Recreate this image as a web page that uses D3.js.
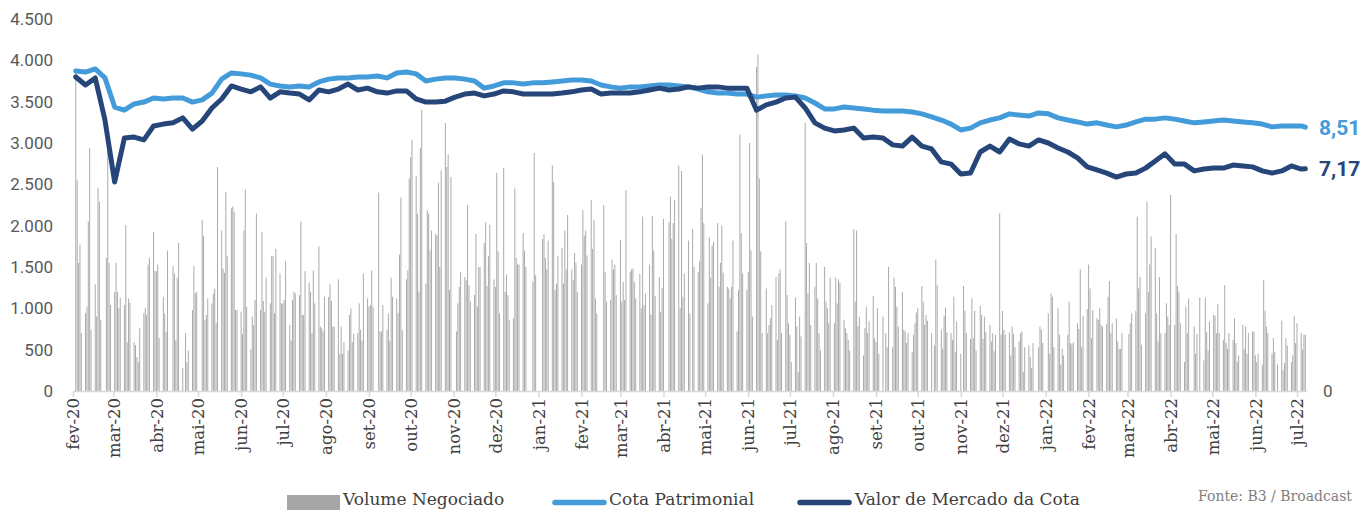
<!DOCTYPE html>
<html>
<head>
<meta charset="utf-8">
<script src="https://cdn.jsdelivr.net/npm/d3@7"></script>
<style>
  html, body { margin: 0; padding: 0; background: #fff; }
  svg { display: block; }
</style>
</head>
<body>
<svg id="chart" width="1364" height="510"></svg>
<script>
// month categories of the x axis
var monthLabels = ["fev-20", "mar-20", "abr-20", "mai-20", "jun-20", "jul-20", "ago-20", "set-20", "out-20", "nov-20", "dez-20",
  "jan-21", "fev-21", "mar-21", "abr-21", "mai-21", "jun-21", "jul-21", "ago-21", "set-21", "out-21", "nov-21", "dez-21",
  "jan-22", "fev-22", "mar-22", "abr-22", "mai-22", "jun-22", "jul-22"];

// daily traded volume, one value per weekday of each month (0 = no trading)
var volFev20 = [3900, 2550, 1550, 1770, 700, 940, 1020, 2050, 2940, 740, 1290, 900, 2460, 2290, 860, 0, 1610, 3170, 1550, 1040];
var volMar20 = [1200, 1550, 1200, 1000, 1130, 1040, 2010, 590, 1120, 1070, 590, 555, 410, 350, 760, 940, 1000, 920, 1530, 1610, 1920, 1450];
var volAbr20 = [1450, 1530, 640, 1140, 940, 710, 1700, 0, 1510, 1420, 610, 1370, 1790, 280, 0, 700, 350, 490, 980, 1510, 1180, 1200];
var volMai20 = [0, 2070, 1880, 860, 920, 1120, 1060, 1180, 1240, 820, 2710, 1940, 1480, 1430, 2410, 1630, 2210, 2230, 2170, 980, 980];
var volJun20 = [960, 690, 1940, 2440, 1020, 510, 900, 800, 1100, 2150, 980, 1920, 1090, 960, 1370, 1060, 1630, 1630, 940, 1720, 1420, 1060];
var volJul20 = [1060, 1100, 1570, 800, 610, 1100, 1200, 1180, 1160, 2050, 920, 920, 1450, 1310, 1200, 700, 1460, 1060, 1750, 780, 760, 720, 1140];
var volAgo20 = [1140, 1290, 1090, 780, 780, 1350, 450, 780, 450, 590, 490, 920, 1000, 590, 690, 700, 1060, 740, 610, 1420, 1120];
var volSet20 = [1020, 1040, 1460, 1020, 0, 2400, 720, 720, 1040, 740, 940, 610, 1370, 1140, 1120, 940, 1650, 2340, 740, 1350, 1460, 2570];
var volOut20 = [2830, 3040, 2600, 2140, 1200, 2940, 3400, 1300, 2190, 2150, 1700, 1940, 1900, 1880, 2520, 1500, 2670, 3240, 2710, 2860, 1220, 2590];
var volNov20 = [0, 720, 1060, 1260, 1440, 1380, 1340, 2250, 1280, 1080, 1160, 1900, 1020, 1500, 1500, 1790, 2040, 1270, 1630, 2010, 1350];
var volDez20 = [1260, 2640, 1690, 940, 2700, 1200, 1410, 1160, 860, 880, 2450, 1610, 1530, 1530, 1910, 1700, 1500, 0, 0, 1320, 2880, 1400, 0];
var volJan21 = [0, 1840, 1900, 1610, 1470, 1820, 2730, 2530, 1220, 1300, 1630, 1730, 1300, 1940, 1470, 2130, 1470, 1340, 1670, 1550, 1200];
var volFev21 = [1530, 2190, 1880, 1940, 1640, 2310, 1720, 2070, 1120, 940, 0, 0, 2250, 1440, 1080, 1100, 1590, 1470, 1530, 1160];
var volMar21 = [1830, 1080, 1320, 1100, 2430, 1440, 1470, 1480, 1320, 1120, 1420, 1000, 2110, 1040, 1180, 1530, 920, 2120, 1700, 1150, 1380, 960, 1250];
var volAbr21 = [2080, 0, 2040, 2350, 1840, 2030, 2310, 2730, 1000, 2660, 1140, 1420, 1820, 940, 0, 1960, 1500, 1440, 1570, 2210, 2860, 2030];
var volMai21 = [1060, 1860, 1370, 1760, 1800, 2030, 1260, 1550, 2000, 1430, 1260, 1240, 1120, 1260, 1820, 720, 1220, 3100, 1910, 1420, 1220];
var volJun21 = [1440, 3000, 1700, 900, 3920, 4070, 2570, 1690, 700, 1240, 700, 800, 880, 1040, 1380, 620, 1420, 1470, 700, 2050, 1160, 820];
var volJul21 = [680, 350, 1130, 780, 230, 900, 660, 3240, 1790, 1180, 1550, 800, 1260, 1550, 1120, 700, 490, 1500, 1080, 1000, 820, 1370];
var volAgo21 = [820, 1370, 1060, 1350, 1310, 860, 760, 700, 620, 490, 1960, 1080, 1940, 780, 900, 430, 760, 1020, 700, 850, 1150, 640];
var volSet21 = [590, 1000, 450, 900, 0, 700, 530, 1500, 530, 1370, 1260, 1020, 780, 1200, 740, 720, 580, 700, 470, 680, 820, 950];
var volOut21 = [1000, 1270, 1080, 800, 920, 850, 700, 0, 550, 1590, 1280, 740, 510, 910, 1010, 710, 700, 620, 1140, 470, 840];
var volNov21 = [450, 0, 1270, 970, 700, 630, 1120, 640, 970, 490, 1030, 920, 630, 900, 710, 800, 600, 700, 480, 680, 2150, 680];
var volDez21 = [970, 740, 680, 710, 430, 780, 690, 530, 600, 700, 720, 230, 530, 550, 410, 280, 580, 0, 530, 780, 740, 580, 0];
var volJan22 = [940, 450, 1180, 1140, 530, 1000, 680, 320, 510, 430, 680, 1080, 580, 560, 590, 820, 750, 1470, 530, 910, 990];
var volFev22 = [1530, 1240, 640, 980, 880, 860, 1000, 800, 780, 810, 1140, 1330, 700, 820, 880, 600, 510, 510, 700, 0];
var volMar22 = [0, 690, 820, 940, 970, 2110, 1240, 1380, 560, 940, 2290, 1200, 1530, 1870, 1730, 940, 600, 1380, 700, 700, 1060, 900, 800];
var volAbr22 = [2370, 800, 1900, 1270, 1200, 820, 350, 1020, 700, 1120, 0, 780, 450, 690, 0, 1130, 370, 1130, 710, 490, 840];
var volMai22 = [920, 910, 700, 1050, 700, 620, 1280, 580, 510, 700, 620, 880, 580, 350, 430, 800, 510, 780, 450, 700, 720, 720];
var volJun22 = [430, 350, 450, 320, 1340, 970, 780, 700, 450, 640, 470, 0, 320, 850, 250, 340, 640, 550, 350, 430, 910, 580];
var volJul22 = [820, 700, 500, 680, 680];

var volumeByMonth = [volFev20, volMar20, volAbr20, volMai20, volJun20, volJul20, volAgo20, volSet20, volOut20, volNov20, volDez20,
  volJan21, volFev21, volMar21, volAbr21, volMai21, volJun21, volJul21, volAgo21, volSet21, volOut21, volNov21, volDez21,
  volJan22, volFev22, volMar22, volAbr22, volMai22, volJun22, volJul22];

// weekly readings (each Monday from 03/02/2020, plus the last day 07/07/2022), R$ per share
var cotaPatrimonial = [10.32, 10.29, 10.39, 10.10, 9.16, 9.06, 9.26, 9.32, 9.45, 9.42,
  9.45, 9.45, 9.32, 9.39, 9.61, 10.06, 10.26, 10.23, 10.19, 10.10,
  9.90, 9.84, 9.81, 9.84, 9.81, 9.97, 10.06, 10.10, 10.10, 10.13,
  10.13, 10.16, 10.10, 10.26, 10.29, 10.23, 10.00, 10.06, 10.10, 10.10,
  10.06, 10.00, 9.77, 9.84, 9.94, 9.94, 9.90, 9.94, 9.94, 9.97,
  10.00, 10.03, 10.03, 10.00, 9.87, 9.81, 9.77, 9.81, 9.81, 9.84,
  9.87, 9.87, 9.84, 9.81, 9.74, 9.65, 9.61, 9.61, 9.58, 9.58,
  9.48, 9.52, 9.55, 9.55, 9.52, 9.45, 9.29, 9.10, 9.10, 9.16,
  9.13, 9.10, 9.06, 9.03, 9.03, 9.03, 9.00, 8.94, 8.84, 8.74,
  8.61, 8.42, 8.48, 8.65, 8.74, 8.81, 8.94, 8.90, 8.87, 8.97,
  8.94, 8.81, 8.74, 8.68, 8.61, 8.65, 8.58, 8.52, 8.58, 8.68,
  8.77, 8.77, 8.81, 8.77, 8.71, 8.65, 8.68, 8.71, 8.74, 8.71,
  8.68, 8.65, 8.61, 8.52, 8.55, 8.55, 8.55, 8.51];

var valorMercado = [10.13, 9.87, 10.10, 8.74, 6.74, 8.16, 8.19, 8.10, 8.55, 8.61,
  8.65, 8.81, 8.45, 8.71, 9.13, 9.42, 9.84, 9.74, 9.65, 9.81,
  9.45, 9.65, 9.61, 9.58, 9.39, 9.71, 9.65, 9.74, 9.90, 9.71,
  9.77, 9.65, 9.61, 9.68, 9.68, 9.42, 9.32, 9.32, 9.35, 9.48,
  9.58, 9.61, 9.52, 9.58, 9.68, 9.65, 9.58, 9.58, 9.58, 9.58,
  9.61, 9.65, 9.71, 9.74, 9.58, 9.61, 9.61, 9.61, 9.65, 9.71,
  9.77, 9.71, 9.74, 9.81, 9.77, 9.81, 9.81, 9.77, 9.77, 9.77,
  9.06, 9.23, 9.32, 9.45, 9.48, 9.13, 8.65, 8.48, 8.39, 8.42,
  8.48, 8.16, 8.19, 8.16, 7.94, 7.90, 8.19, 7.90, 7.81, 7.39,
  7.32, 7.00, 7.03, 7.71, 7.90, 7.71, 8.13, 7.97, 7.90, 8.10,
  8.00, 7.84, 7.71, 7.52, 7.23, 7.13, 7.03, 6.90, 7.00, 7.03,
  7.19, 7.42, 7.65, 7.32, 7.32, 7.10, 7.16, 7.19, 7.19, 7.29,
  7.26, 7.23, 7.10, 7.03, 7.10, 7.26, 7.16, 7.17];

var volumeTicks = [0, 500, 1000, 1500, 2000, 2500, 3000, 3500, 4000, 4500];

var colLight = "#449bd9",
  colDark = "#264679",
  colBar = "#ababab";

var ptBR = d3.formatLocale({ decimal: ",", thousands: ".", grouping: [3], currency: ["R$", ""] });
var fmtVol = ptBR.format(",.0f");
var fmtCota = ptBR.format(".2f");

var svg = d3.select("#chart");

var monthStarts = monthLabels.map(function(d, i) { return new Date(2020, 1 + i, 1); });
var lastDay = new Date(2022, 6, 7);

var lineDates = d3.timeMonday.range(new Date(2020, 1, 3), new Date(2022, 6, 5));
lineDates.push(lastDay);

var x = d3.scaleTime()
  .domain([monthStarts[0], monthStarts[monthStarts.length - 1]])
  .range([73, 1297]);

var yVol = d3.scaleLinear().domain([0, 4500]).range([391, 19]);
var yCota = d3.scaleLinear().domain([0, 12]).range([391, 19]);

// bars: each month's values go to its weekdays in order
var bars = [];
volumeByMonth.forEach(function(vals, i) {
  var days = d3.timeDays(monthStarts[i], new Date(2020, 2 + i, 1)).filter(function(d) {
    return d.getDay() !== 0 && d.getDay() !== 6;
  });
  vals.forEach(function(v, j) {
    if (v > 0 && days[j]) bars.push({ date: days[j], v: v });
  });
});

svg.append("g")
  .selectAll("rect")
  .data(bars)
  .enter().append("rect")
  .attr("x", function(d) { return x(d.date) - 0.5; })
  .attr("y", function(d) { return yVol(d.v); })
  .attr("width", 1)
  .attr("height", function(d) { return yVol(0) - yVol(d.v); })
  .style("fill", colBar);

// left axis
var leftAxis = svg.append("g")
  .attr("transform", "translate(73,0)")
  .call(d3.axisLeft(yVol).tickValues(volumeTicks).tickSize(0).tickPadding(20).tickFormat(fmtVol));
leftAxis.select(".domain").remove();
leftAxis.selectAll("text")
  .style("font-family", "Roboto, 'Noto Sans', sans-serif")
  .style("font-size", "17px")
  .style("fill", "#595959");

// right axis, only zero shown
var rightAxis = svg.append("g")
  .attr("transform", "translate(1318,0)")
  .call(d3.axisRight(yCota).tickValues([0]).tickSize(0).tickPadding(5).tickFormat(function(d) { return d; }));
rightAxis.select(".domain").remove();
rightAxis.selectAll("text")
  .style("font-family", "Roboto, 'Noto Sans', sans-serif")
  .style("font-size", "17px")
  .style("fill", "#595959");

// bottom axis
svg.append("line")
  .attr("x1", x(monthStarts[0]))
  .attr("x2", x(lastDay) + 2)
  .attr("y1", 391.5)
  .attr("y2", 391.5)
  .style("stroke", "#d9d9d9")
  .style("stroke-width", 1.5);

var bottomAxis = svg.append("g")
  .attr("transform", "translate(0,391)")
  .call(d3.axisBottom(x).tickValues(monthStarts).tickSize(6).tickFormat(function(d, i) { return monthLabels[i]; }));
bottomAxis.select(".domain").remove();
bottomAxis.selectAll(".tick line")
  .style("stroke", "#d9d9d9")
  .style("stroke-width", 1.5);
bottomAxis.selectAll("text")
  .attr("transform", "rotate(-90)")
  .attr("x", -7)
  .attr("y", 0)
  .attr("dy", "0.35em")
  .style("text-anchor", "end")
  .style("font-family", "'DejaVu Serif', serif")
  .style("font-size", "16.5px")
  .style("fill", "#404040");

// lines
var line = d3.line()
  .x(function(d, i) { return x(lineDates[i]); })
  .y(function(d) { return yCota(d); });

svg.append("path")
  .datum(cotaPatrimonial)
  .attr("d", line)
  .style("fill", "none")
  .style("stroke", colLight)
  .style("stroke-width", 5)
  .style("stroke-linejoin", "round")
  .style("stroke-linecap", "round");

svg.append("path")
  .datum(valorMercado)
  .attr("d", line)
  .style("fill", "none")
  .style("stroke", colDark)
  .style("stroke-width", 5)
  .style("stroke-linejoin", "round")
  .style("stroke-linecap", "round");

// end labels
var endLabels = [
  { v: cotaPatrimonial[cotaPatrimonial.length - 1], c: colLight },
  { v: valorMercado[valorMercado.length - 1], c: colDark }
];
svg.selectAll(".endlabel")
  .data(endLabels)
  .enter().append("text")
  .attr("class", "endlabel")
  .attr("x", 1319)
  .attr("y", function(d) { return yCota(d.v); })
  .attr("dy", "0.36em")
  .style("font-family", "Roboto, 'Noto Sans', sans-serif")
  .style("font-weight", "bold")
  .style("font-size", "21px")
  .style("fill", function(d) { return d.c; })
  .text(function(d) { return fmtCota(d.v); });

// legend
var legend = svg.append("g").attr("class", "legend");
legend.append("rect")
  .attr("x", 287).attr("y", 495).attr("width", 53).attr("height", 15)
  .style("fill", "#a6a6a6");
legend.append("line")
  .attr("x1", 555).attr("x2", 604).attr("y1", 502.5).attr("y2", 502.5)
  .style("stroke", colLight).style("stroke-width", 5.5).style("stroke-linecap", "round");
legend.append("line")
  .attr("x1", 800).attr("x2", 849).attr("y1", 502.5).attr("y2", 502.5)
  .style("stroke", colDark).style("stroke-width", 5.5).style("stroke-linecap", "round");

var legendItems = [
  { t: "Volume Negociado", x: 343 },
  { t: "Cota Patrimonial", x: 609 },
  { t: "Valor de Mercado da Cota", x: 855 }
];
legend.selectAll("text")
  .data(legendItems)
  .enter().append("text")
  .attr("x", function(d) { return d.x; })
  .attr("y", 505)
  .style("font-family", "'DejaVu Serif', serif")
  .style("font-size", "17px")
  .style("fill", "#404040")
  .text(function(d) { return d.t; });

svg.append("text")
  .attr("x", 1352)
  .attr("y", 501)
  .style("text-anchor", "end")
  .style("font-family", "'DejaVu Serif', serif")
  .style("font-size", "14px")
  .style("fill", "#7f7f7f")
  .text("Fonte: B3 / Broadcast");
</script>
</body>
</html>
